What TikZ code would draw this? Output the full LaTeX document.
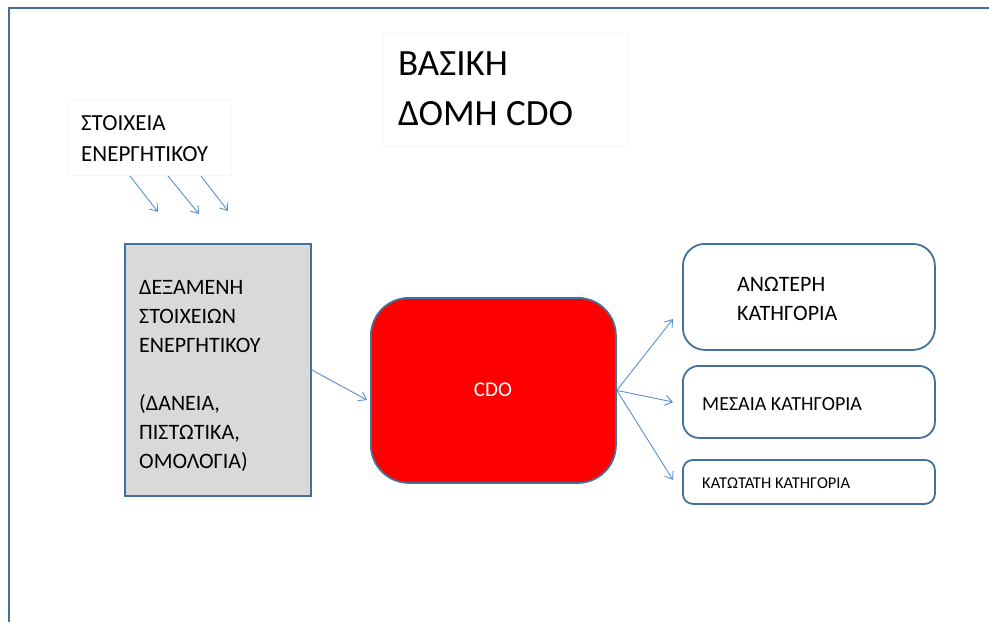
\documentclass[tikz,border=0pt]{standalone}
\usepackage{fontspec}
\setmainfont{Carlito}
\usepackage{xcolor}
\usetikzlibrary{arrows.meta}
\definecolor{frameblue}{HTML}{41719C}
\definecolor{arrowblue}{HTML}{5B8ED0}
\definecolor{poolgray}{HTML}{D9D9D9}

\begin{document}
\begin{tikzpicture}[x=1pt, y=-1pt, >={Straight Barb[length=7pt,width=10pt]},
  box node/.style={draw=frameblue, line width=1.8pt, anchor=north west, inner sep=0pt},
  faint node/.style={draw=black!3, fill=white, anchor=north west, inner sep=0pt},
  label node/.style={anchor=north west, inner sep=0pt, align=left},
  arrow/.style={->, arrowblue, line width=0.9pt}]

	\useasboundingbox (0,0) rectangle (989,622);

	% page frame
	\draw[frameblue, line width=2.6pt] (989,8) -- (9,8) -- (9,622);

	% title and asset label
	\node[faint node, minimum width=245pt, minimum height=113pt] (titlebox) at (383,33) {};
	\node[label node, font=\fontsize{37}{50}\selectfont] (title) at (398,52) {ΒΑΣΙΚΗ\\ΔΟΜΗ CDO};
	\node[faint node, minimum width=164pt, minimum height=75pt] (assetbox) at (67,100) {};
	\node[label node, font=\fontsize{23}{31}\selectfont] (assets) at (81,115) {ΣΤΟΙΧΕΙΑ\\ΕΝΕΡΓΗΤΙΚΟΥ};

	% asset pool
	\node[box node, fill=poolgray, minimum width=186pt, minimum height=252pt] (pool) at (124,243) {};
	\node[label node, font=\fontsize{22}{29}\selectfont] (pooltext) at (139,280)
		{ΔΕΞΑΜΕΝΗ\\ΣΤΟΙΧΕΙΩΝ\\ΕΝΕΡΓΗΤΙΚΟΥ\\[29pt](ΔΑΝΕΙΑ,\\ΠΙΣΤΩΤΙΚΑ,\\ΟΜΟΛΟΓΙΑ)};

	% the CDO itself
	\node[box node, fill=red, rounded corners=38pt, minimum width=245pt, minimum height=185pt] (cdo) at (370,297) {};
	\node[text=white, font=\fontsize{21}{25}\selectfont, inner sep=0pt] (cdotext) at (493,390) {CDO};

	% tranches
	\node[box node, rounded corners=22pt, minimum width=252pt, minimum height=106pt] (senior) at (682,243) {};
	\node[label node, font=\fontsize{22}{29}\selectfont] (seniortext) at (737,277) {ΑΝΩΤΕΡΗ\\ΚΑΤΗΓΟΡΙΑ};
	\node[box node, rounded corners=16pt, minimum width=252pt, minimum height=72pt] (mezz) at (682,365) {};
	\node[label node, font=\fontsize{20}{25}\selectfont] (mezztext) at (702,397) {ΜΕΣΑΙΑ ΚΑΤΗΓΟΡΙΑ};
	\node[box node, rounded corners=10pt, minimum width=252pt, minimum height=44pt] (equity) at (682,459) {};
	\node[label node, font=\fontsize{16.5}{20}\selectfont] (equitytext) at (702,478) {ΚΑΤΩΤΑΤΗ ΚΑΤΗΓΟΡΙΑ};

	% free ends of the arrows
	\coordinate (in1a) at (130,176);
	\coordinate (in1b) at (158,212);
	\coordinate (in2a) at (168,176);
	\coordinate (in2b) at (199,214);
	\coordinate (in3a) at (201,176);
	\coordinate (in3b) at (228,211);
	\coordinate (cdoin) at (367,400);
	\coordinate (seniorin) at (673,319);
	\coordinate (mezzin) at (673,402);
	\coordinate (equityin) at (673,480);

	% assets flowing into the pool
	\draw[arrow] (in1a) -- (in1b);
	\draw[arrow] (in2a) -- (in2b);
	\draw[arrow] (in3a) -- (in3b);

	% pool into CDO
	\draw[arrow] (pool.east) -- (cdoin);

	% CDO out to the tranches
	\draw[arrow] (cdo.east) -- (seniorin);
	\draw[arrow] (cdo.east) -- (mezzin);
	\draw[arrow] (cdo.east) -- (equityin);

\end{tikzpicture}
\end{document}
